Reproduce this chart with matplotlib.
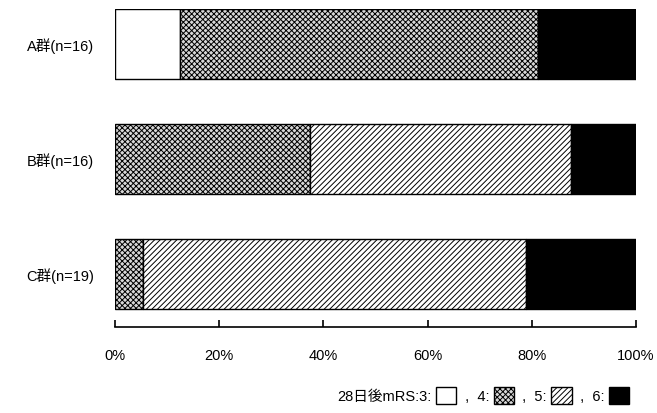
import numpy as np
import matplotlib
matplotlib.use("Agg")
import matplotlib.pyplot as plt
from matplotlib.patches import Patch
from matplotlib.ticker import PercentFormatter

plt.rcParams["font.family"] = ["Liberation Sans", "Noto Sans CJK JP", "DejaVu Sans"]
plt.rcParams["hatch.linewidth"] = 0.7

groups = ["A群(n=16)", "B群(n=16)", "C群(n=19)"]
mrs_levels = ["3", "4", "5", "6"]
# percentage of each group per 28-day mRS grade
pct_mrs3 = [12.5, 0.0, 0.0]
pct_mrs4 = [68.75, 37.5, 5.3]
pct_mrs5 = [0.0, 50.0, 73.6]
pct_mrs6 = [18.75, 12.5, 21.1]

series = [pct_mrs3, pct_mrs4, pct_mrs5, pct_mrs6]
styles = [
    dict(facecolor="white", hatch=None),
    dict(facecolor="#d8d8d8", hatch="xxxxxx"),
    dict(facecolor="white", hatch="//////"),
    dict(facecolor="black", hatch=None),
]

fig = plt.figure(figsize=(6.57, 4.14), dpi=100)
ax = fig.add_axes([0.175, 0.208, 0.793, 0.768])

y = np.arange(len(groups))
left = np.zeros(len(groups))
for vals, st in zip(series, styles):
    vals = np.array(vals)
    ax.barh(y, vals, left=left, height=0.61, edgecolor="black",
            linewidth=1.0, **st)
    left += vals

ax.set_ylim(2.46, -0.305)
ax.set_xlim(0, 100)
ax.set_yticks(y)
ax.set_yticklabels(groups, fontsize=10.5)
ax.set_xticks(np.arange(0, 101, 20))
ax.xaxis.set_major_formatter(PercentFormatter(decimals=0))
ax.tick_params(axis="y", length=0, pad=15)
ax.tick_params(axis="x", direction="in", length=5, width=1.2, labelsize=10.5, pad=15)
for s in ("left", "top", "right"):
    ax.spines[s].set_visible(False)
ax.spines["bottom"].set_linewidth(1.2)

handles = [Patch(edgecolor="black", linewidth=1.0, **st) for st in styles]
labels = ["28日後mRS:3:", " ,  4:", " ,  5:", " ,  6:"]
fig.legend(handles, labels, loc="lower right", bbox_to_anchor=(0.978, -0.01),
           ncol=4, frameon=False, markerfirst=False, fontsize=10.5,
           handlelength=1.4, handleheight=1.4, handletextpad=0.3,
           columnspacing=0.3)

fig.savefig("out.png", dpi=100)
